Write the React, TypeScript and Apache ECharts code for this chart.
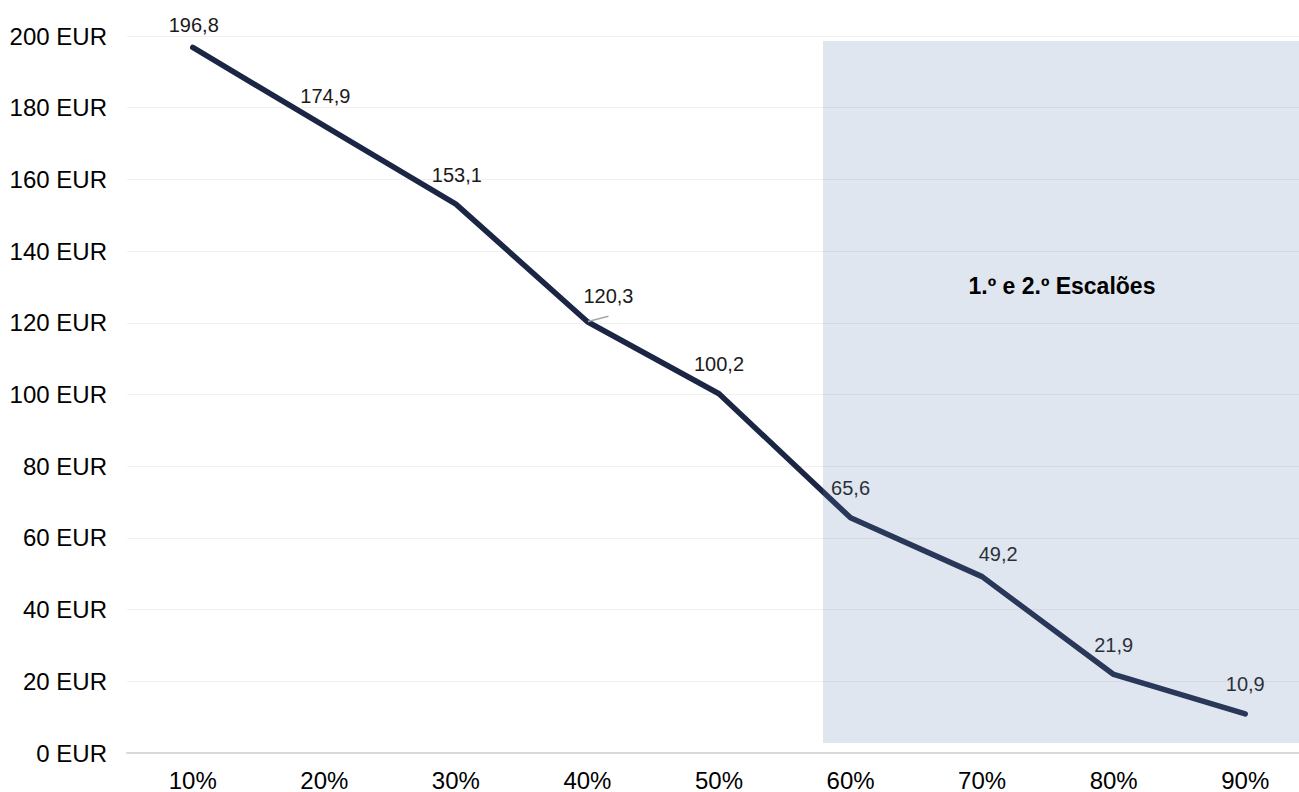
import React, { useEffect, useRef } from "react";
import * as echarts from "echarts";

const categories = ["10%", "20%", "30%", "40%", "50%", "60%", "70%", "80%", "90%"];
const values = [196.8, 174.9, 153.1, 120.3, 100.2, 65.6, 49.2, 21.9, 10.9];
const valueLabels = ["196,8", "174,9", "153,1", "120,3", "100,2", "65,6", "49,2", "21,9", "10,9"];
const yTicks = [0, 20, 40, 60, 80, 100, 120, 140, 160, 180, 200];
const annotation = "1.º e 2.º Escalões";

// label offsets (styling only)
const labelOffsets: number[][] = [
  [1, 7],
  [1, 0],
  [1, 0],
  [21, 4],
  [0, 0],
  [0, 0],
  [16, 7],
  [0, 0],
  [0, 0],
];

export default function App() {
  const ref = useRef<HTMLDivElement>(null);
  useEffect(() => {
    if (!ref.current) return;
    const chart = echarts.init(ref.current, undefined, { renderer: "svg" });
    const font = "'Liberation Sans', Arial, sans-serif";
    chart.setOption({
      animation: false,
      backgroundColor: "#ffffff",
      grid: { left: 127, right: 0, top: 36, bottom: 39, containLabel: false },
      xAxis: {
        type: "category",
        data: categories,
        boundaryGap: true,
        axisLine: { show: true, lineStyle: { color: "#d9d9d9", width: 2 } },
        axisTick: { show: false },
        axisLabel: { color: "#000", fontSize: 24, fontFamily: font, margin: 15 },
        splitLine: { show: false },
      },
      yAxis: {
        type: "value",
        min: yTicks[0],
        max: yTicks[yTicks.length - 1],
        interval: 20,
        axisLine: { show: false },
        axisTick: { show: false },
        axisLabel: {
          color: "#000",
          fontSize: 24,
          fontFamily: font,
          margin: 20,
          formatter: (v: number) => `${v} EUR`,
        },
        splitLine: { show: true, lineStyle: { color: "#f0f0f0", width: 1 } },
      },
      series: [
        {
          type: "line",
          data: values.map((v, i) => ({
            value: v,
            label: {
              offset: labelOffsets[i],
            },
            labelLine:
              i === 3
                ? { show: true, lineStyle: { color: "#a6a6a6", width: 1.5 } }
                : { show: false },
          })),
          symbol: "circle",
          symbolSize: 1,
          showSymbol: true,
          itemStyle: { color: "rgba(0,0,0,0)" },
          lineStyle: { color: "#1b2544", width: 5.5, cap: "round", join: "round" },
          label: {
            show: true,
            position: "top",
            distance: 19,
            color: "#1a1a1a",
            fontSize: 20,
            fontFamily: font,
            formatter: (p: any) => valueLabels[p.dataIndex],
          },
          z: 2,
        },
      ],
      graphic: [
        {
          type: "rect",
          z: 10,
          silent: true,
          shape: { x: 823, y: 41, width: 490, height: 702 },
          style: { fill: "rgba(100,130,175,0.2)" },
        },
        {
          type: "text",
          z: 11,
          x: 1062,
          y: 286,
          style: {
            text: annotation,
            fill: "#000",
            font: `bold 23px ${font}`,
            align: "center",
            verticalAlign: "middle",
          },
        },
      ],
    });
    return () => chart.dispose();
  }, []);
  return (
    <div style={{ position: "fixed", left: 0, top: 0, width: 1299, height: 792, overflow: "hidden" }}>
      <div ref={ref} style={{ width: 1311, height: 792 }} />
    </div>
  );
}
